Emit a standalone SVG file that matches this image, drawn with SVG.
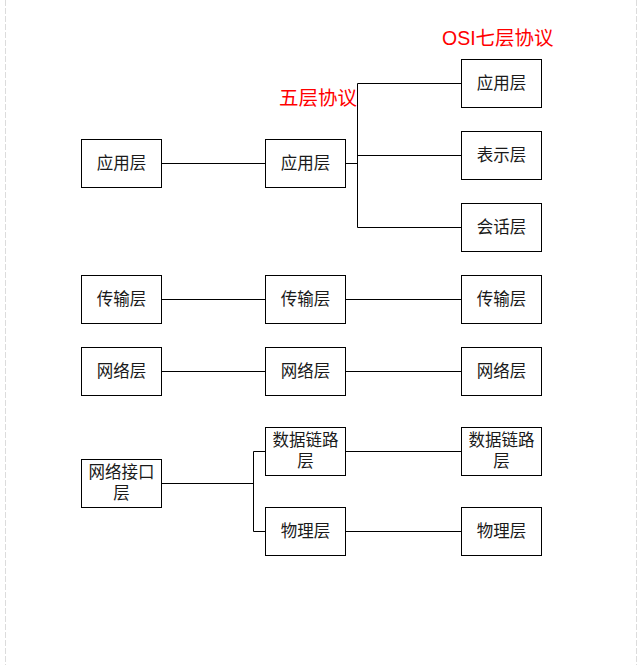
<svg xmlns="http://www.w3.org/2000/svg" width="638" height="665" viewBox="0 0 638 665">
<style>
.box{fill:#fff;stroke:#000;stroke-width:1}
.t{font-family:"Noto Sans CJK SC","Liberation Sans",sans-serif;font-size:16.5px;fill:#1a1a1a;text-anchor:middle}
.red{font-family:"Liberation Sans","Noto Sans CJK SC",sans-serif;font-size:19.5px;fill:#ff0000}
.c{fill:none;stroke:#000;stroke-width:1}
.edge{stroke:#dcdcdc;stroke-width:1;stroke-dasharray:6 2}
</style>
<rect width="638" height="665" fill="#fff"/>
<line class="edge" x1="5.5" y1="0" x2="5.5" y2="665"/>
<line class="edge" x1="636.5" y1="0" x2="636.5" y2="665"/>
<g id="labels">
<text class="red" x="442" y="45">OSI七层协议</text>
<text class="red" x="279" y="105">五层协议</text>
</g>
<g id="connectors">
<path class="c" d="M161.5 163.5H265.5"/>
<path class="c" d="M345.5 163.5H357.5M357.5 83.5V227.5M357.5 83.5H461.5M357.5 155.5H461.5M357.5 227.5H461.5"/>
<path class="c" d="M161.5 299.5H265.5M345.5 299.5H461.5"/>
<path class="c" d="M161.5 371.5H265.5M345.5 371.5H461.5"/>
<path class="c" d="M161.5 483.5H253.5M253.5 451.5V531.5M253.5 451.5H265.5M253.5 531.5H265.5"/>
<path class="c" d="M345.5 451.5H461.5M345.5 531.5H461.5"/>
</g>
<g id="tcp-app"><rect class="box" x="81.5" y="139.5" width="80" height="48"/><text class="t" x="121.5" y="169">应用层</text></g>
<g id="tcp-trans"><rect class="box" x="81.5" y="275.5" width="80" height="48"/><text class="t" x="121.5" y="305">传输层</text></g>
<g id="tcp-net"><rect class="box" x="81.5" y="347.5" width="80" height="48"/><text class="t" x="121.5" y="377">网络层</text></g>
<g id="tcp-link"><rect class="box" x="81.5" y="459.5" width="80" height="48"/><text class="t" x="121.5" y="478"><tspan x="121.5" y="478">网络接口</tspan><tspan x="121.5" y="498.5">层</tspan></text></g>
<g id="five-app"><rect class="box" x="265.5" y="139.5" width="80" height="48"/><text class="t" x="305.5" y="169">应用层</text></g>
<g id="five-trans"><rect class="box" x="265.5" y="275.5" width="80" height="48"/><text class="t" x="305.5" y="305">传输层</text></g>
<g id="five-net"><rect class="box" x="265.5" y="347.5" width="80" height="48"/><text class="t" x="305.5" y="377">网络层</text></g>
<g id="five-dl"><rect class="box" x="265.5" y="427.5" width="80" height="48"/><text class="t" x="305.5" y="446"><tspan x="305.5" y="446">数据链路</tspan><tspan x="305.5" y="466.5">层</tspan></text></g>
<g id="five-phy"><rect class="box" x="265.5" y="507.5" width="80" height="48"/><text class="t" x="305.5" y="537">物理层</text></g>
<g id="osi-app"><rect class="box" x="461.5" y="59.5" width="80" height="48"/><text class="t" x="501.5" y="89">应用层</text></g>
<g id="osi-pres"><rect class="box" x="461.5" y="131.5" width="80" height="48"/><text class="t" x="501.5" y="161">表示层</text></g>
<g id="osi-sess"><rect class="box" x="461.5" y="203.5" width="80" height="48"/><text class="t" x="501.5" y="233">会话层</text></g>
<g id="osi-trans"><rect class="box" x="461.5" y="275.5" width="80" height="48"/><text class="t" x="501.5" y="305">传输层</text></g>
<g id="osi-net"><rect class="box" x="461.5" y="347.5" width="80" height="48"/><text class="t" x="501.5" y="377">网络层</text></g>
<g id="osi-dl"><rect class="box" x="461.5" y="427.5" width="80" height="48"/><text class="t" x="501.5" y="446"><tspan x="501.5" y="446">数据链路</tspan><tspan x="501.5" y="466.5">层</tspan></text></g>
<g id="osi-phy"><rect class="box" x="461.5" y="507.5" width="80" height="48"/><text class="t" x="501.5" y="537">物理层</text></g>
</svg>
